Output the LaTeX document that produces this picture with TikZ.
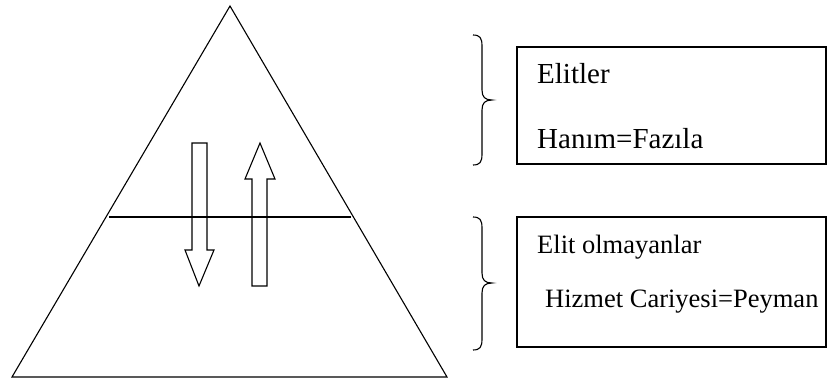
\documentclass[tikz,border=0pt]{standalone}
\usepackage{fontspec}
\setmainfont{Liberation Serif}
\begin{document}
\begin{tikzpicture}[x=1pt,y=-1pt,
  line/.style={draw=black,line width=1.1pt,line join=miter},
  boxframe/.style={draw=black,line width=1.3pt},
  bigtxt/.style={anchor=base west,inner sep=0pt,font=\fontsize{29}{34}\selectfont},
  smalltxt/.style={anchor=base west,inner sep=0pt,font=\fontsize{26.5}{32}\selectfont},
  bracepath/.style={draw=black,line width=1.1pt}]
\useasboundingbox (0,0) rectangle (832,378);
% triangle
\coordinate (apex) at (230,6);
\coordinate (bl) at (12,377);
\coordinate (br) at (447,377);
\draw[line] (apex) -- (bl) -- (br) -- cycle;
\coordinate (hl) at (109,217);
\coordinate (hr) at (351,217);
\draw[line] (hl) -- (hr);
% down arrow
\draw[line,fill=white,fill opacity=0] (192,143) -- (207,143) -- (207,250) -- (214,250) -- (199,286) -- (185,250) -- (192,250) -- cycle;
% up arrow
\draw[line] (260,143) -- (275,179) -- (267,179) -- (267,286) -- (252,286) -- (252,179) -- (245,179) -- cycle;
% boxes
\draw[boxframe] (517,47) rectangle (826,164);
\node[bigtxt] (t1) at (537,83) {Elitler};
\node[bigtxt] (t2) at (537,148) {Hanım=Fazıla};
\draw[boxframe] (517,217) rectangle (826,347);
\node[smalltxt] (t3) at (537,253) {Elit olmayanlar};
\node[smalltxt] (t4) at (545,307) {Hizmet Cariyesi=Peyman};
% braces
\draw[bracepath] (473,35) .. controls (480,35) and (482,38) .. (482,46) -- (482,90)
  .. controls (482,97) and (485,100) .. (492,100)
  .. controls (485,100) and (482,103) .. (482,110) -- (482,154)
  .. controls (482,162) and (480,165) .. (473,165);
\draw[bracepath] (473,217) .. controls (480,217) and (482,220) .. (482,228) -- (482,273)
  .. controls (482,280) and (485,283) .. (492,283)
  .. controls (485,283) and (482,286) .. (482,293) -- (482,339)
  .. controls (482,347) and (480,350) .. (473,350);
\end{tikzpicture}
\end{document}
